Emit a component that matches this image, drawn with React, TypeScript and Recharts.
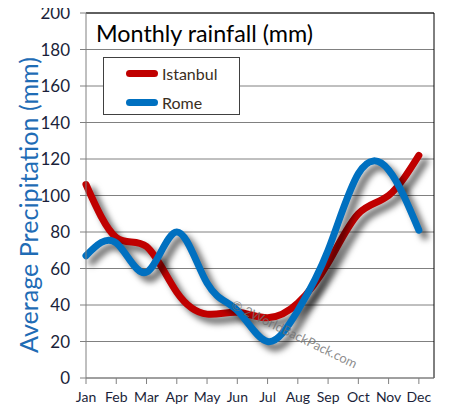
import { LineChart, Line, XAxis, YAxis, CartesianGrid, ReferenceLine } from "recharts"

const months = ["Jan", "Feb", "Mar", "Apr", "May", "Jun", "Jul", "Aug", "Sep", "Oct", "Nov", "Dec"]
const istanbul = [106, 77, 72, 47, 35, 36, 33, 41, 63, 90, 100, 122]
const rome = [67, 74, 58, 80, 52, 37, 20, 37, 70, 112, 114, 81]
const yTicks = [0, 20, 40, 60, 80, 100, 120, 140, 160, 180, 200]

const series = [
  { key: "istanbul", name: "Istanbul", color: "#c00000" },
  { key: "rome", name: "Rome", color: "#0070c0" },
]

const data = months.map((m, i) => ({ idx: i, month: m, istanbul: istanbul[i], rome: rome[i] }))

const labelColor = "#1b1f3a"

function LegendBox() {
  return (
    <div
      style={{
        position: "absolute",
        left: 103,
        top: 57,
        width: 137,
        height: 58,
        border: "1px solid #404040",
        background: "#fff",
        boxSizing: "border-box",
        fontFamily: "Lato, sans-serif",
        fontSize: 16,
        color: "#3a2e22",
        paddingTop: 1,
      }}
    >
      {series.map((s) => (
        <div key={s.key} style={{ display: "flex", alignItems: "center", height: 29, paddingLeft: 22 }}>
          <div style={{ width: 32, height: 7, borderRadius: 4, background: s.color, marginRight: 4 }} />
          <span>{s.name}</span>
        </div>
      ))}
    </div>
  )
}

export default function App() {
  return (
    <div style={{ position: "relative", width: 454, height: 419, background: "#fff", margin: -8 }}>
      <style>{`.recharts-line-curve { filter: drop-shadow(6px 6px 3px rgba(0,0,0,0.6)); }`}</style>
      <LineChart width={454} height={419} data={data} margin={{ top: 13, right: 20, left: 30, bottom: 0 }}>
        <CartesianGrid vertical={false} stroke="#808080" strokeWidth={1} />
        <XAxis
          dataKey="idx"
          type="number"
          domain={[0, 11.5]}
          ticks={months.map((_, i) => i)}
          tickFormatter={(v) => months[v]}
          height={41}
          stroke="#808080"
          tickSize={6}
          tickMargin={8}
          tick={{ fill: labelColor, fontSize: 14, fontFamily: "Lato, sans-serif" }}
        />
        <YAxis
          domain={[0, 200]}
          ticks={yTicks}
          width={56}
          stroke="#808080"
          tickSize={6}
          tickMargin={10}
          tick={{ fill: labelColor, fontSize: 17, fontFamily: "Lato, sans-serif" }}
        />
        <ReferenceLine y={200} stroke="#000" strokeWidth={1} />
        <ReferenceLine x={11.5} stroke="#000" strokeWidth={1} />
        {series.map((s) => (
          <Line
            key={s.key}
            dataKey={s.key}
            name={s.name}
            type="natural"
            stroke={s.color}
            strokeWidth={7}
            strokeLinecap="round"
            dot={false}
            activeDot={false}
            isAnimationActive={false}
          />
        ))}
      </LineChart>
      <LegendBox />
      <svg width={454} height={419} style={{ position: "absolute", left: 0, top: 0, pointerEvents: "none" }}>
        <text x={96} y={42} fontSize={24} fontFamily="Lato, sans-serif" fill="#000" textLength={217} lengthAdjust="spacingAndGlyphs">
          Monthly rainfall (mm)
        </text>
        <text
          x={0}
          y={0}
          transform="translate(38 205) rotate(-90)"
          textAnchor="middle"
          fontSize={25}
          fontFamily="Lato, sans-serif"
          fill="#1f6cb5"
          textLength={296}
          lengthAdjust="spacingAndGlyphs"
        >
          Average Precipitation (mm)
        </text>
        <text
          x={0}
          y={0}
          transform="translate(230 308) rotate(26)"
          fontSize={13}
          fontFamily="Lato, sans-serif"
          fill="#6f6f6f"
          fillOpacity={0.8}
        >
          © 2WorldBackPack.com
        </text>
      </svg>
    </div>
  )
}
